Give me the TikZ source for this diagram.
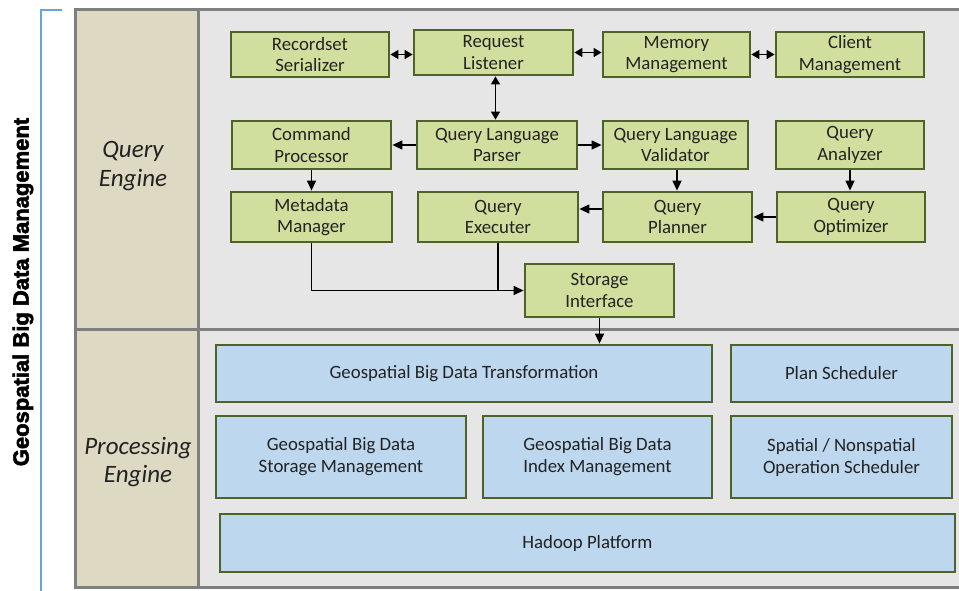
\documentclass[tikz,border=0pt]{standalone}
\usepackage{fontspec}
\setmainfont{Carlito}
\newfontfamily\heavysans[FakeBold=2.5]{Liberation Sans Bold}
\usetikzlibrary{arrows.meta}
\definecolor{framegray}{HTML}{7F7F7F}
\definecolor{beige}{HTML}{DDD9C3}
\definecolor{areagray}{HTML}{E6E6E6}
\definecolor{gfill}{HTML}{D1DF9E}
\definecolor{olive}{HTML}{4F6228}
\definecolor{bfill}{HTML}{BDD7EE}
\definecolor{bracketblue}{HTML}{6AA3DC}
\definecolor{txt}{HTML}{222222}
\tikzset{
  gbox/.style={draw=olive, line width=2.8pt, fill=gfill, rectangle, inner sep=0pt,
    align=center, font=\fontsize{18.8}{21.5}\selectfont, text=txt},
  bbox/.style={draw=olive, line width=2.8pt, fill=bfill, rectangle, inner sep=0pt,
    align=center, font=\fontsize{18.8}{22}\selectfont, text=txt},
  conn/.style={line width=1.3pt, -{Triangle[length=10pt,width=9pt]}},
  bconn/.style={line width=1.3pt, {Triangle[length=8pt,width=9pt]}-{Triangle[length=8pt,width=9pt]}},
  lab/.style={align=center, font=\fontsize{25}{28.5}\selectfont\itshape, text=txt}
}
\begin{document}
\begin{tikzpicture}[x=1pt,y=-1pt]
\useasboundingbox (0,0) rectangle (959,591);
% backgrounds
\fill[areagray] (75,10) rectangle (959,587);
\fill[beige] (75,10) rectangle (198,587);
\draw[framegray, line width=3pt] (959,10) -- (75,10) -- (75,587) -- (959,587);
\draw[framegray, line width=3pt] (198,10) -- (198,587);
\draw[framegray, line width=3pt] (75,329) -- (959,329);
% bracket
\draw[bracketblue, line width=2pt] (62,10) -- (41,10) -- (41,591);
\node[rotate=90, font=\heavysans\fontsize{22}{25}\selectfont, text=black] (title) at (23,292) {Geospatial Big Data Management};
% engine labels
\node[lab] (qe) at (133,166) {Query\\Engine};
\node[lab] (pe) at (138,462) {Processing\\Engine};
% green boxes
\node[gbox, minimum width=158pt, minimum height=45pt] (rec) at (310,54.5) {Recordset\\Serializer};
\node[gbox, minimum width=159pt, minimum height=45pt] (req) at (493.5,52.5) {Request\\Listener};
\node[gbox, minimum width=147pt, minimum height=45pt] (mem) at (676.5,54.5) {Memory\\Management};
\node[gbox, minimum width=148pt, minimum height=45pt] (cli) at (850,54.5) {Client\\Management};
\node[gbox, minimum width=159pt, minimum height=48pt] (cmd) at (311.5,145) {Command\\Processor};
\node[gbox, minimum width=160pt, minimum height=48pt] (qlp) at (497,145) {Query Language\\Parser};
\node[gbox, minimum width=145pt, minimum height=48pt] (val) at (675.5,145) {Query Language\\Validator};
\node[gbox, minimum width=148pt, minimum height=48pt] (ana) at (850,145) {Query\\Analyzer};
\node[gbox, minimum width=161pt, minimum height=50pt] (meta) at (311.5,217) {Metadata\\Manager};
\node[gbox, minimum width=160pt, minimum height=50pt] (exe) at (498,217) {Query\\Executer};
\node[gbox, minimum width=149pt, minimum height=50pt] (plan) at (677.5,217) {Query\\Planner};
\node[gbox, minimum width=148pt, minimum height=50pt] (opt) at (851,217) {Query\\Optimizer};
\node[gbox, minimum width=149pt, minimum height=53pt] (stor) at (599.5,290.5) {Storage\\Interface};
% blue boxes
\node[bbox, minimum width=496pt, minimum height=57pt] (trans) at (464,373.5) {Geospatial Big Data Transformation};
\node[bbox, minimum width=221pt, minimum height=57pt] (psched) at (841.5,373.5) {Plan Scheduler};
\node[bbox, minimum width=250pt, minimum height=82pt] (smgmt) at (341,457) {Geospatial Big Data\\Storage Management};
\node[bbox, minimum width=229pt, minimum height=82pt] (imgmt) at (597.5,457) {Geospatial Big Data\\Index Management};
\node[bbox, minimum width=221pt, minimum height=82pt] (osched) at (841.5,457) {Spatial / Nonspatial\\Operation Scheduler};
\node[bbox, minimum width=735pt, minimum height=58pt] (hadoop) at (587.5,543) {Hadoop Platform};
% connectors
\draw[bconn] (rec.east) -- (rec.east -| req.west);
\draw[bconn] (req.east) -- (req.east -| mem.west);
\draw[bconn] (mem.east) -- (mem.east -| cli.west);
\draw[bconn] ([xshift=2pt]req.south) -- ([xshift=2pt]req.south |- qlp.north);
\draw[conn] (qlp.west) -- (qlp.west -| cmd.east);
\draw[conn] (qlp.east) -- (qlp.east -| val.west);
\draw[conn] (cmd.south) -- (cmd.south |- meta.north);
\draw[conn] ([xshift=1.5pt]val.south) -- ([xshift=1.5pt]val.south |- plan.north);
\draw[conn] (ana.south) -- (ana.south |- opt.north);
\draw[conn] (opt.west) -- (opt.west -| plan.east);
\draw[conn] ([yshift=8pt]plan.west) -- ([yshift=8pt]plan.west -| exe.east);
\draw[conn] (meta.south) |- (stor.west);
\draw[line width=1.3pt] (exe.south) -- (exe.south |- stor.west);
\draw[conn] (stor.south) -- (stor.south |- trans.north);
\end{tikzpicture}
\end{document}
